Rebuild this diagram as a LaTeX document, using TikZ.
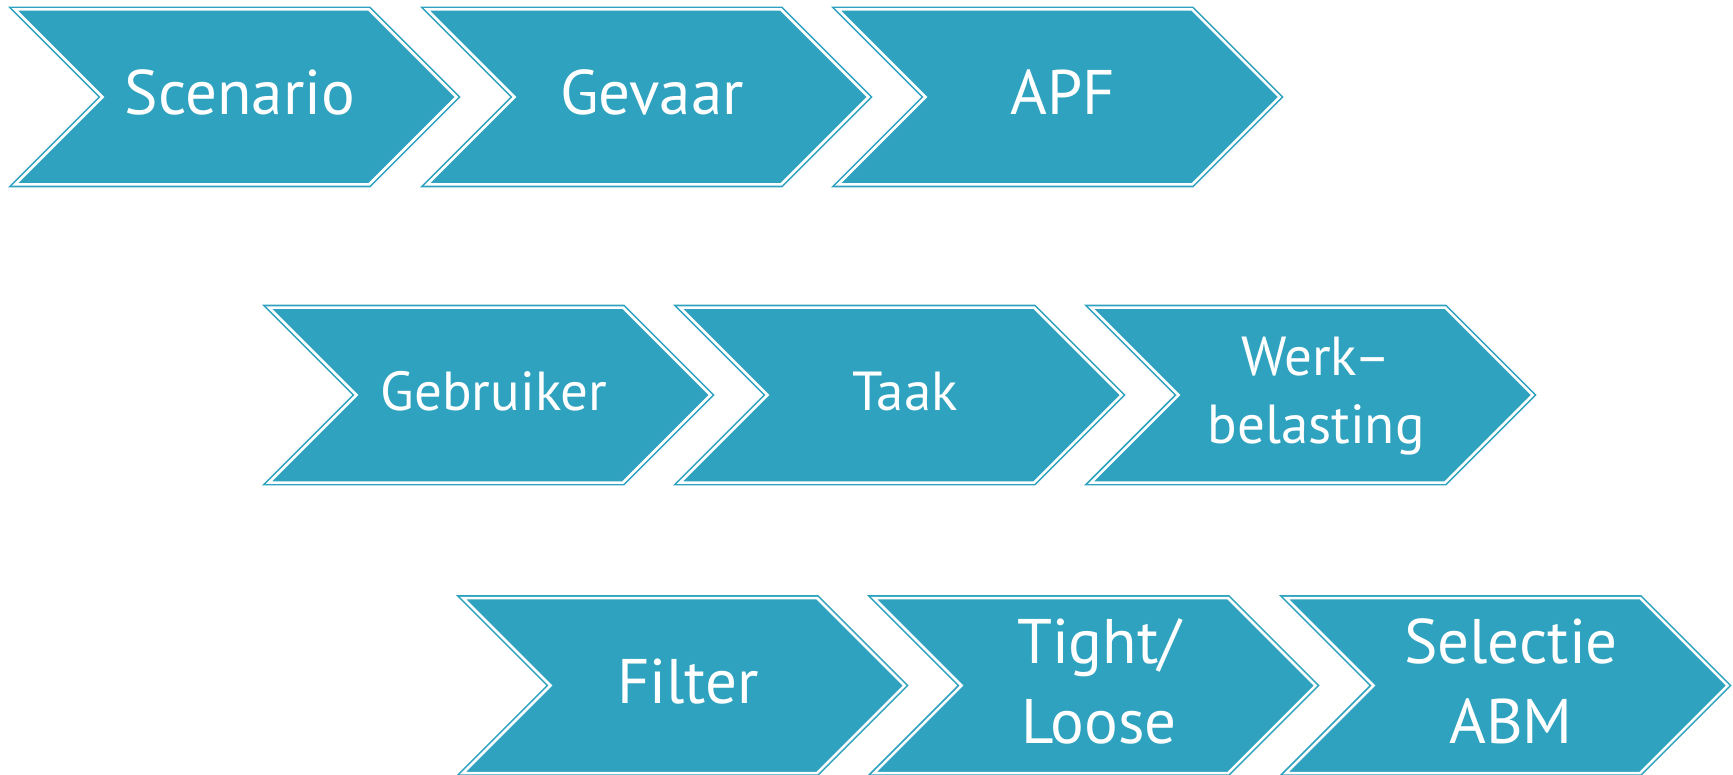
\documentclass[tikz,border=0pt]{standalone}
\usepackage{fontspec}
\setmainfont{PT Sans}
\definecolor{tealA}{RGB}{46,162,190}
\tikzset{
  chevshape/.style={fill=tealA, draw=tealA, line width=0.8pt, double=white, double distance=1.25pt, line join=miter},
  lbl/.style={text=white, inner sep=0pt, align=center, anchor=base},
  big/.style={font=\fontsize{31.5}{40}\selectfont},
  mid/.style={font=\fontsize{27.5}{34}\selectfont},
}
\newcommand\chevpath[2]{%
  \path[chevshape] ({#1+6},{#2-87.5}) -- ({#1+360},{#2-87.5}) -- ({#1+447.5},{#2}) -- ({#1+360},{#2+87.5}) -- ({#1+6},{#2+87.5}) -- ({#1+93.5},{#2}) -- cycle;}
\begin{document}
\begin{tikzpicture}[x=0.5pt, y=-0.5pt]
\useasboundingbox (0,0) rectangle (1733,775);
% row 1
\chevpath{9}{97}
\chevpath{421}{97}
\chevpath{832}{97}
\node[lbl,big] (scenario) at (240,115) {Scenario};
\node[lbl,big] (gevaar) at (652,115) {Gevaar};
\node[lbl,big] (apf) at (1063,115) {APF};
% row 2
\chevpath{263}{395}
\chevpath{674}{395}
\chevpath{1085}{395}
\node[lbl,mid] (gebruiker) at (494,410) {Gebruiker};
\node[lbl,mid] (taak) at (905,410) {Taak};
\node[lbl,mid] (werk) at (1316,443) {Werk–\\belasting};
% row 3
\chevpath{457}{685.5}
\chevpath{868}{685.5}
\chevpath{1280}{685.5}
\node[lbl,big] (filter) at (688,703) {Filter};
\node[lbl,big] (tight) at (1099,743) {Tight/\\Loose};
\node[lbl,big] (selectie) at (1511,743) {Selectie\\ABM};
\end{tikzpicture}
\end{document}
